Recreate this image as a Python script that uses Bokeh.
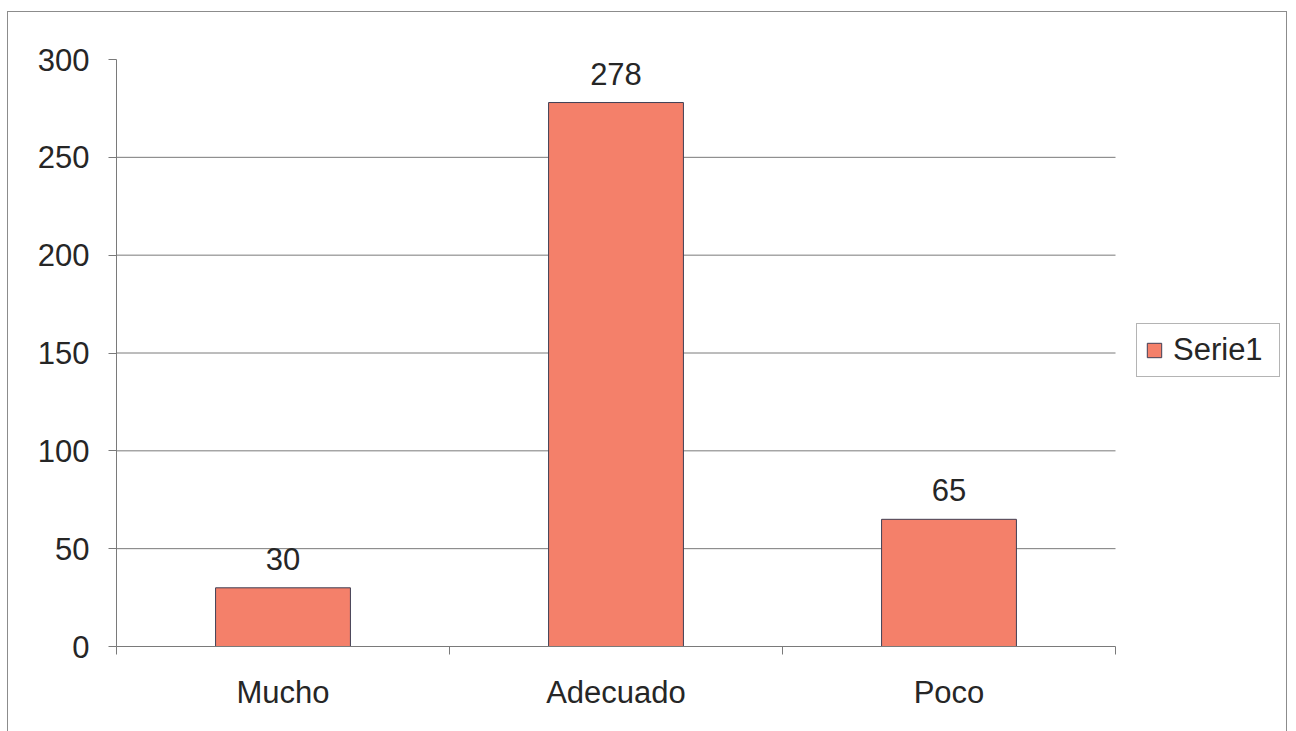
from bokeh.plotting import figure
from bokeh.models import (FixedTicker, ColumnDataSource, LabelSet, Legend, LegendItem,
                          Range1d)
from bokeh.core.properties import value
from bokeh.embed import file_html
from bokeh.resources import INLINE

# Survey answers
categories = ["Mucho", "Adecuado", "Poco"]
counts = [30, 278, 65]
series_name = "Serie1"
y_ticks = [0, 50, 100, 150, 200, 250, 300]

FONT = "Liberation Sans"
FONT_SIZE = "31px"
TEXT = "#262626"
BAR = "#F4806A"
BAR_EDGE = "#3f3f55"
LINE = "#7a7a7a"

# The frame also holds the legend strip on the right; the category area
# occupies CAT_PX pixels per category, the rest is free space.
CAT_PX = 333
FRAME_PX = 1172
n = len(categories)

centers = [i + 0.5 for i in range(n)]
src = ColumnDataSource(dict(x=centers, y=counts, label=[str(c) for c in counts]))

p = figure(width=1280, height=745, output_backend="svg", toolbar_location=None,
           x_range=Range1d(0, FRAME_PX / CAT_PX), y_range=Range1d(0, 300),
           min_border_left=108, min_border_right=0, min_border_top=47,
           min_border_bottom=111)
p.styles = {"margin-left": "7px", "margin-top": "11px", "border": "1px solid #8c8c8c"}
p.outline_line_color = None
p.background_fill_color = "white"
p.border_fill_color = "white"
p.xgrid.grid_line_color = None
p.ygrid.grid_line_color = None

# horizontal gridlines across the category area only
grid_y = y_ticks[1:-1]
p.segment(x0=[0] * len(grid_y), x1=[n] * len(grid_y), y0=grid_y, y1=grid_y,
          line_color=LINE, line_width=1)

r = p.vbar(x="x", top="y", width=0.405, source=src, fill_color=BAR,
           line_color=BAR_EDGE, line_width=1)

labels = LabelSet(x="x", y="y", text="label", source=src, y_offset=18,
                  text_align="center", text_baseline="alphabetic",
                  text_font=value(FONT), text_font_size=FONT_SIZE, text_color=TEXT)
p.add_layout(labels)

# y axis
p.yaxis.ticker = FixedTicker(ticks=y_ticks)
p.yaxis.axis_line_color = LINE
p.yaxis.major_tick_line_color = LINE
p.yaxis.major_tick_out = 8
p.yaxis.major_tick_in = 0
p.yaxis.minor_tick_line_color = None
p.yaxis.major_label_standoff = 19
p.yaxis.major_label_text_font = FONT
p.yaxis.major_label_text_font_size = FONT_SIZE
p.yaxis.major_label_text_color = TEXT

# x axis: labels at category centres, ticks on category boundaries
p.xaxis.bounds = (0, n)
p.xaxis.ticker = FixedTicker(ticks=centers, minor_ticks=list(range(n + 1)))
p.xaxis.major_label_overrides = {c: name for c, name in zip(centers, categories)}
p.xaxis.axis_line_color = LINE
p.xaxis.major_tick_line_color = None
p.xaxis.minor_tick_line_color = LINE
p.xaxis.minor_tick_out = 8
p.xaxis.minor_tick_in = 0
p.xaxis.major_label_standoff = 20
p.xaxis.major_label_text_font = FONT
p.xaxis.major_label_text_font_size = FONT_SIZE
p.xaxis.major_label_text_color = TEXT

legend = Legend(items=[LegendItem(label=series_name, renderers=[r])],
                location=(1020, 269), border_line_color="#6a6a6a", border_line_width=1,
                label_text_font=FONT, label_text_font_size=FONT_SIZE,
                label_text_color=TEXT, glyph_width=18, glyph_height=18,
                padding=8, spacing=0, margin=0, label_standoff=10, label_width=98)
p.add_layout(legend, "center")

open("out.html", "w").write(file_html(p, INLINE))
